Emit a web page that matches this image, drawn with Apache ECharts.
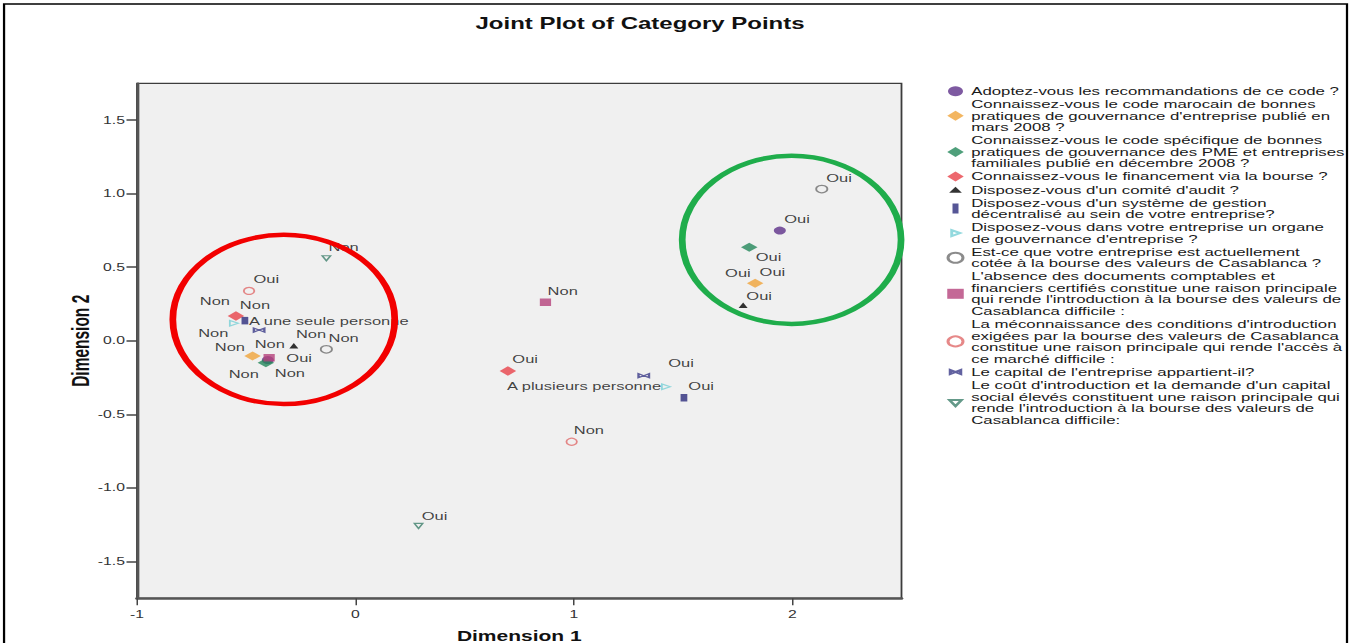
<!DOCTYPE html>
<html>
<head>
<meta charset="utf-8">
<title>Joint Plot of Category Points</title>
<script src="https://cdn.jsdelivr.net/npm/echarts@6/dist/echarts.min.js"></script>
<style>
  html, body { margin: 0; padding: 0; background: #fff; overflow: hidden; }
  #wrap { width: 1352px; height: 643px; overflow: hidden; }
  /* l'image d'origine est étirée en largeur : on dessine à 1/1.5 puis on étire */
  #main { width: 901.333px; height: 643px; transform: scaleX(1.5); transform-origin: 0 0; }
</style>
</head>
<body>
<div id="wrap"><div id="main"></div></div>
<script>
  var FONT = "'Liberation Sans', Arial, sans-serif";

  var titre = 'Joint Plot of Category Points';
  var ticksX = [-1, 0, 1, 2];
  var ticksY = [-1.5, -1.0, -0.5, 0.0, 0.5, 1.0, 1.5];

  var noms = [
    'Adoptez-vous les recommandations de ce code ?',
    "Connaissez-vous le code marocain de bonnes\npratiques de gouvernance d'entreprise publié en\nmars 2008 ?",
    "Connaissez-vous le code spécifique de bonnes\npratiques de gouvernance des PME et entreprises\nfamiliales publié en décembre 2008 ?",
    'Connaissez-vous le financement via la bourse ?',
    "Disposez-vous d'un comité d'audit ?",
    "Disposez-vous d'un système de gestion\ndécentralisé au sein de votre entreprise?",
    "Disposez-vous dans votre entreprise un organe\nde gouvernance d'entreprise ?",
    'Est-ce que votre entreprise est actuellement\ncotée à la bourse des valeurs de Casablanca ?',
    "L'absence des documents comptables et\nfinanciers certifiés constitue une raison principale\nqui rende l'introduction à la bourse des valeurs de\nCasablanca difficile :",
    "La méconnaissance des conditions d'introduction\nexigées par la bourse des valeurs de Casablanca\nconstitue une raison principale qui rende l'accès à\nce marché difficile :",
    "Le capital de l'entreprise appartient-il?",
    "Le coût d'introduction et la demande d'un capital\nsocial élevés constituent une raison principale qui\nrende l'introduction à la bourse des valeurs de\nCasablanca difficile:"
  ];

  // points [dimension 1, dimension 2, catégorie]
  var adoptez = [[1.943, 0.749, 'Oui'], [-0.401, -0.131, 'Non']];
  var codeMarocain = [[1.830, 0.391, 'Oui'], [-0.471, -0.103, 'Non']];
  var codePME = [[1.803, 0.636, 'Oui'], [-0.410, -0.149, 'Non']];
  var financement = [[0.698, -0.205, 'Oui'], [-0.547, 0.169, 'Non']];
  var comiteAudit = [[1.775, 0.241, 'Oui'], [-0.282, -0.033, 'Non']];
  var gestion = [[1.504, -0.387, 'Oui'], [-0.506, 0.137, 'Non']];
  var organe = [[1.422, -0.312, 'Oui'], [-0.556, 0.119, 'Non']];
  var cotee = [[2.135, 1.031, 'Oui'], [-0.133, -0.058, 'Non']];
  var absenceDocs = [[0.870, 0.262, 'Non'], [-0.395, -0.115, 'Oui']];
  var meconnaissance = [[-0.487, 0.339, 'Oui'], [0.990, -0.686, 'Non']];
  var capital = [[1.320, -0.237, 'A plusieurs personne'], [-0.441, 0.073, 'A une seule personne']];
  var coutIntro = [[-0.133, 0.561, 'Non'], [0.289, -1.258, 'Oui']];
  // étiquettes dont le point est caché sous les losanges orange
  var pointsCaches = [[-0.471, -0.103, 'Non'], [1.830, 0.391, 'Oui']];

  // zones entourées : centre x, centre y, rayon x, rayon y (unités des dimensions)
  var zoneRouge = [-0.328, 0.145, 0.508, 0.575];
  var zoneVerte = [1.997, 0.686, 0.501, 0.571];

  var points = [adoptez, codeMarocain, codePME, financement, comiteAudit, gestion,
    organe, cotee, absenceDocs, meconnaissance, capital, coutIntro];

  var D = [11.5, -11.5];
  var BOX = 'M0,0M11,10';
  var styles = [
    {symbol: 'circle', size: 8, fill: '#5e318a', offs: [D, [14.7, 13]]},
    {symbol: 'diamond', size: [11, 9], fill: '#f0a43a', offs: [D, D]},
    {symbol: 'diamond', size: [11, 9], fill: '#23875a', offs: [[12.9, 9.4], [-14.7, 11.3]]},
    {symbol: 'diamond', size: [11, 9.5], fill: '#e8424a', offs: [D, [12.7, -11]]},
    {symbol: 'triangle', size: [6, 5.5], fill: '#000', offs: [[10.7, -9.6], D],
      icon: 'path://' + BOX + 'M1.25,8L5.5,2L9.75,8Z'},
    {symbol: 'rect', size: [4.5, 7.5], fill: '#2c2c7c', offs: [D, [-20, -20]],
      icon: 'path://' + BOX + 'M3.5,0h4v10h-4z'},
    {symbol: 'triangle', size: [5.5, 5.5], rotate: -90, stroke: '#78cfd6', offs: [[10, -23.4], [-13.8, 9.4]],
      icon: 'path://' + BOX + 'M3,2L8.5,5L3,8Z'},
    {symbol: 'circle', size: 7.5, stroke: '#6e6e6e', offs: [D, D]},
    {symbol: 'rect', size: [7.5, 7.5], fill: '#b5427c', offs: [D, [20, 0.6]]},
    {symbol: 'circle', size: 7, stroke: '#e06a6a', offs: [D, D]},
    {symbol: 'path://M0,0L0,8L8,4ZM16,0L16,8L8,4Z', size: [7, 4], stroke: '#3b3b88',
      offs: [[11.6, 10.3, 'right'], [-6.7, -9.3, 'left']],
      icon: 'path://' + BOX + 'M2,3L2,7L5.5,5ZM9,3L9,7L5.5,5Z'},
    {symbol: 'triangle', size: [5.5, 5], rotate: 180, stroke: '#3d7f6b', offs: [D, [10.7, -10]],
      icon: 'path://' + BOX + 'M1.5,2.5L9.5,2.5L5.5,8.5Z'}
  ];

  var labelStyle = {show: true, position: 'inside', formatter: '{b}', color: '#111', fontSize: 11, fontFamily: FONT};

  var series = points.map(function (pts, i) {
    var st = styles[i];
    return {
      name: noms[i],
      type: 'scatter',
      symbol: st.symbol,
      symbolSize: st.size,
      symbolRotate: st.rotate || 0,
      itemStyle: st.stroke ? {color: 'rgba(0,0,0,0)', borderColor: st.stroke, borderWidth: 1.2} : {color: st.fill},
      label: labelStyle,
      emphasis: {disabled: true},
      data: pts.map(function (p, j) {
        var o = st.offs[j];
        return {name: p[2], value: [p[0], p[1]], label: {offset: [o[0], o[1]], align: o[2] || 'center'}};
      })
    };
  });
  var offsCaches = [[-15.1, -8.7], [-11.5, -10.6]];
  series.push({
    name: 'caches',
    type: 'scatter',
    symbol: 'circle',
    symbolSize: 1,
    itemStyle: {color: 'rgba(0,0,0,0)'},
    label: labelStyle,
    emphasis: {disabled: true},
    data: pointsCaches.map(function (p, j) {
      return {name: p[2], value: [p[0], p[1]], label: {offset: offsCaches[j]}};
    })
  });

  var chart = echarts.init(document.getElementById('main'), null, {renderer: 'svg'});
  var option = {
    animation: false,
    backgroundColor: '#fff',
    title: {
      text: titre, left: 312, top: 11,
      textStyle: {fontSize: 16, fontWeight: 'bold', color: '#111', fontFamily: FONT}
    },
    legend: {
      orient: 'vertical', left: 630.5, top: 85.5, padding: 0,
      itemWidth: 11, itemHeight: 10, itemGap: 1.6,
      symbolRotate: 0,
      selectedMode: false,
      textStyle: {fontSize: 11.2, lineHeight: 11.5, color: '#1a1a1a', fontFamily: FONT},
      data: noms.map(function (n, i) {
        return styles[i].icon ? {name: n, icon: styles[i].icon} : n;
      })
    },
    grid: {
      show: true, left: 91.33, right: 300, top: 83.3, bottom: 44.7,
      outerBoundsMode: 'none',
      backgroundColor: '#f0f0f0', borderColor: '#3c3c3c', borderWidth: 1.2
    },
    xAxis: {
      type: 'value', min: -1, max: 2.5,
      splitLine: {show: false},
      axisLine: {show: true, onZero: false, lineStyle: {color: '#555', width: 2.5}},
      axisTick: {show: true, length: 7, customValues: ticksX, lineStyle: {color: '#444', width: 1}},
      axisLabel: {customValues: ticksX, margin: 11, color: '#333', fontSize: 10.5, fontFamily: FONT,
        formatter: function (v) { return String(v); }},
      name: 'Dimension 1', nameLocation: 'middle', nameGap: 30.5, nameMoveOverlap: false,
      nameTextStyle: {fontSize: 14, fontWeight: 'bold', color: '#111', fontFamily: FONT}
    },
    yAxis: {
      type: 'value', min: -1.75, max: 1.75,
      splitLine: {show: false},
      axisLine: {show: true, onZero: false, lineStyle: {color: '#555', width: 1.8}},
      axisTick: {show: true, length: 7, customValues: ticksY, lineStyle: {color: '#444', width: 1.5}},
      axisLabel: {customValues: ticksY, margin: 8, color: '#333', fontSize: 10.5, fontFamily: FONT,
        formatter: function (v) { return v.toFixed(1); }},
      name: 'Dimension 2', nameLocation: 'middle', nameGap: 29.5, nameRotate: 90, nameMoveOverlap: false,
      nameTextStyle: {fontSize: 15.5, fontWeight: 'bold', color: '#111', fontFamily: FONT}
    },
    series: series
  };
  chart.setOption(option);

  // ellipses d'annotation, placées en unités des axes
  function ellipse(z, couleur) {
    var c = chart.convertToPixel({gridIndex: 0}, [z[0], z[1]]);
    var p = chart.convertToPixel({gridIndex: 0}, [z[0] + z[2], z[1] + z[3]]);
    return {
      type: 'ellipse', z: 100, silent: true,
      shape: {cx: c[0], cy: c[1], rx: p[0] - c[0], ry: c[1] - p[1]},
      style: {fill: 'none', stroke: couleur, lineWidth: 4.5}
    };
  }
  chart.setOption({
    graphic: [
      {type: 'rect', z: 100, silent: true, shape: {x: 2.7, y: 4, width: 895.3, height: 660},
        style: {fill: 'none', stroke: '#000', lineWidth: 1.5}},
      ellipse(zoneRouge, '#f20000'),
      ellipse(zoneVerte, '#1fad4b')
    ]
  });
</script>
</body>
</html>
